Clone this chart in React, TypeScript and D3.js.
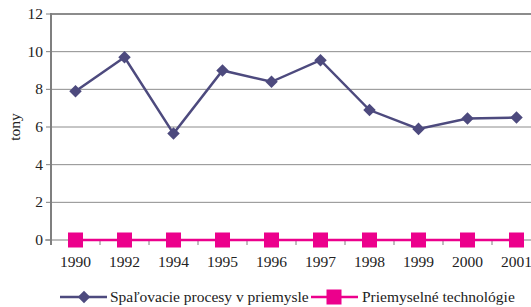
import React, { useRef, useEffect } from 'react';
import * as d3 from 'd3';

const years = ['1990', '1992', '1994', '1995', '1996', '1997', '1998', '1999', '2000', '2001'];
const spalovacie = [7.9, 9.7, 5.65, 9.0, 8.4, 9.55, 6.9, 5.9, 6.45, 6.5];
const technologie = [0, 0, 0, 0, 0, 0, 0, 0, 0, 0];
const yTicks = [0, 2, 4, 6, 8, 10, 12];
const seriesNames = ['Spaľovacie procesy v priemysle', 'Priemyselné technológie'];

const App: React.FC = () => {
  const svgRef = useRef<SVGSVGElement>(null);
  const width = 531;
  const height = 307;

  useEffect(() => {
    if (!svgRef.current) return;
    const svg = d3.select(svgRef.current);
    svg.selectAll('*').remove();

    const margin = { top: 14, left: 51 };
    const plotHeight = 226;
    const bandW = 49;

    const x = d3.scaleBand()
      .domain(years)
      .range([margin.left, margin.left + bandW * years.length]);

    const y = d3.scaleLinear()
      .domain([0, 12])
      .range([margin.top + plotHeight, margin.top]);

    const font = '"Liberation Serif", "Times New Roman", serif';
    const fs = '15.5px';
    const navy = '#4d4a7e';
    const pink = '#ec008c';

    // gridlines
    svg.append('g')
      .selectAll('line')
      .data(yTicks.filter(t => t > 0 && t < 12))
      .enter()
      .append('line')
      .attr('x1', margin.left)
      .attr('x2', width)
      .attr('y1', d => y(d))
      .attr('y2', d => y(d))
      .attr('stroke', '#8c8c8c')
      .attr('stroke-width', 1);

    // top border
    svg.append('line')
      .attr('x1', margin.left)
      .attr('x2', width)
      .attr('y1', y(12))
      .attr('y2', y(12))
      .attr('stroke', '#8c8c8c')
      .attr('stroke-width', 2);

    // x axis
    svg.append('line')
      .attr('x1', margin.left - 6)
      .attr('x2', width)
      .attr('y1', y(0))
      .attr('y2', y(0))
      .attr('stroke', '#7f7f7f')
      .attr('stroke-width', 1);

    svg.append('g')
      .selectAll('line')
      .data(years)
      .enter()
      .append('line')
      .attr('x1', d => (x(d) || 0) + bandW)
      .attr('x2', d => (x(d) || 0) + bandW)
      .attr('y1', y(0))
      .attr('y2', y(0) + 5)
      .attr('stroke', '#7f7f7f');

    // y axis
    svg.append('line')
      .attr('x1', margin.left)
      .attr('x2', margin.left)
      .attr('y1', y(12) - 1)
      .attr('y2', y(0) + 5)
      .attr('stroke', '#7f7f7f')
      .attr('stroke-width', 2);

    svg.append('g')
      .selectAll('line')
      .data(yTicks)
      .enter()
      .append('line')
      .attr('x1', margin.left - 5)
      .attr('x2', margin.left)
      .attr('y1', d => y(d))
      .attr('y2', d => y(d))
      .attr('stroke', '#7f7f7f');

    svg.append('g')
      .selectAll('text')
      .data(yTicks)
      .enter()
      .append('text')
      .attr('x', 43)
      .attr('y', d => y(d) + 5)
      .attr('text-anchor', 'end')
      .style('font-family', font)
      .style('font-size', fs)
      .style('fill', '#222')
      .text(d => d);

    svg.append('g')
      .selectAll('text')
      .data(years)
      .enter()
      .append('text')
      .attr('x', d => (x(d) || 0) + bandW / 2)
      .attr('y', y(0) + 27)
      .attr('text-anchor', 'middle')
      .style('font-family', font)
      .style('font-size', fs)
      .style('fill', '#222')
      .text(d => d);

    svg.append('text')
      .attr('transform', `translate(20, ${y(6)}) rotate(-90)`)
      .attr('text-anchor', 'middle')
      .style('font-family', font)
      .style('font-size', fs)
      .style('fill', '#222')
      .text('tony');

    const cx = (i: number) => (x(years[i]) || 0) + bandW / 2;
    const line = d3.line<number>()
      .x((_, i) => cx(i))
      .y(d => y(d));

    // series 1
    svg.append('path')
      .datum(spalovacie)
      .attr('d', line)
      .attr('fill', 'none')
      .attr('stroke', navy)
      .attr('stroke-width', 2.5);

    const diamond = d3.symbol().type(d3.symbolDiamond2).size(100);
    svg.append('g')
      .selectAll('path')
      .data(spalovacie)
      .enter()
      .append('path')
      .attr('d', diamond)
      .attr('transform', (d, i) => `translate(${cx(i)}, ${y(d)})`)
      .attr('fill', navy);

    // series 2
    svg.append('path')
      .datum(technologie)
      .attr('d', line)
      .attr('fill', 'none')
      .attr('stroke', pink)
      .attr('stroke-width', 2.5);

    svg.append('g')
      .selectAll('rect')
      .data(technologie)
      .enter()
      .append('rect')
      .attr('x', (_, i) => cx(i) - 7.5)
      .attr('y', d => y(d) - 7.5)
      .attr('width', 15)
      .attr('height', 15)
      .attr('fill', pink);

    // legend
    const ly = 297;
    const leg1 = svg.append('g');
    leg1.append('line')
      .attr('x1', 60).attr('x2', 107).attr('y1', ly).attr('y2', ly)
      .attr('stroke', navy).attr('stroke-width', 2.5);
    leg1.append('path')
      .attr('d', diamond)
      .attr('transform', `translate(84, ${ly})`)
      .attr('fill', navy);
    leg1.append('text')
      .attr('x', 110).attr('y', ly + 5)
      .style('font-family', font).style('font-size', fs).style('fill', '#222')
      .text(seriesNames[0]);

    const leg2 = svg.append('g');
    leg2.append('line')
      .attr('x1', 311).attr('x2', 358).attr('y1', ly).attr('y2', ly)
      .attr('stroke', pink).attr('stroke-width', 2.5);
    leg2.append('rect')
      .attr('x', 334 - 7.5).attr('y', ly - 7.5)
      .attr('width', 15).attr('height', 15)
      .attr('fill', pink);
    leg2.append('text')
      .attr('x', 362).attr('y', ly + 5)
      .style('font-family', font).style('font-size', fs).style('fill', '#222')
      .text(seriesNames[1]);
  }, []);

  return (
    <svg
      ref={svgRef}
      width={width}
      height={height}
      style={{ position: 'absolute', left: 0, top: 0, background: '#fff' }}
    />
  );
};

export default App;
